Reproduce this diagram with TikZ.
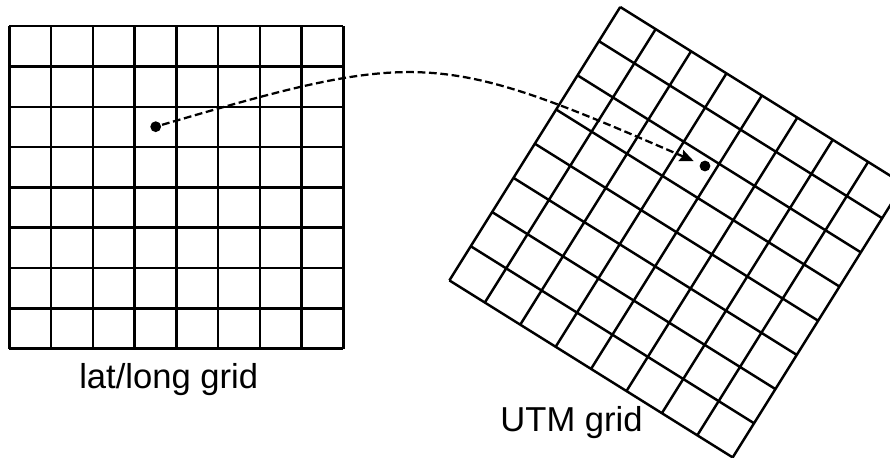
\documentclass[tikz,border=0pt]{standalone}
\usepackage{fontspec}
\setmainfont{Liberation Sans}
\usetikzlibrary{arrows.meta}
\tikzset{dot/.style={circle,fill,inner sep=0pt,minimum size=0.27cm}}
\tikzset{gridlabel/.style={anchor=base,font=\fontsize{24.6}{30}\selectfont}}
\newcommand{\cellgrid}[2]{
  \draw[shift={(#1,#2)},xscale=1.044,yscale=1.0075] (0,0) grid (8,8);
}

\begin{document}
\begin{tikzpicture}[line width=1.75pt]
    \useasboundingbox (0,0) rectangle (22.25,11.425);
    \clip (0,0) rectangle (22.25,11.425);

    % lat/long grid
    \cellgrid{0.2325}{2.71}
    \node[gridlabel] (latlab) at (4.2175,1.7175) {lat/long grid};

    % UTM grid, turned
    \begin{scope}[shift={(11.235,4.415)},rotate=-32]
      \cellgrid{0}{0}
    \end{scope}
    \node[gridlabel] (utmlab) at (14.2875,0.6325) {UTM grid};

    % the point on both grids
    \node[dot] (src) at (3.8925,8.2575) {};
    \node[dot] (dst) at (17.625,7.275) {};
    \draw[line width=1.6pt,dash pattern=on 5.5pt off 2.6pt,shorten >=4pt,
      -{Stealth[length=10pt,width=8.5pt,inset=1.5pt]}]
      (src) .. controls (10.5,10.2) and (11.0,10.15) .. (dst);
\end{tikzpicture}
\end{document}
